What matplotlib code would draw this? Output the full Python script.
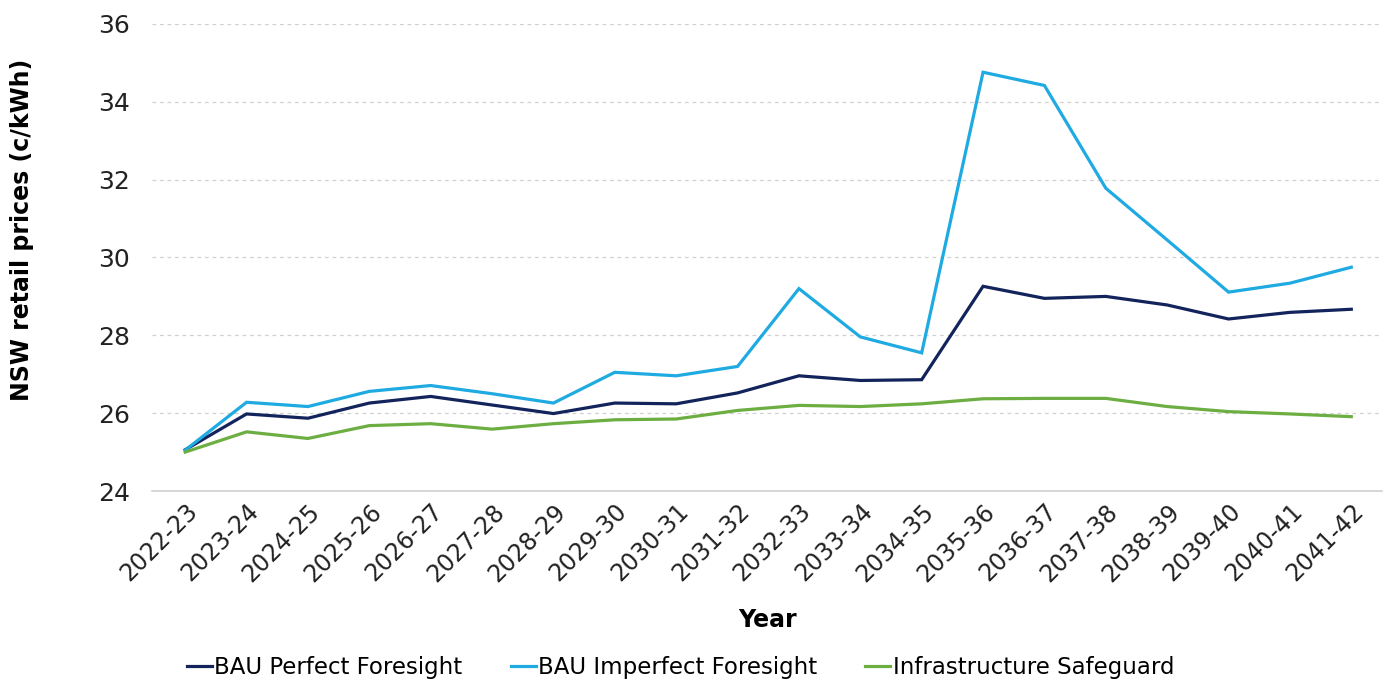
import matplotlib
matplotlib.use("Agg")
import matplotlib.pyplot as plt

years = ["2022-23", "2023-24", "2024-25", "2025-26", "2026-27", "2027-28", "2028-29",
         "2029-30", "2030-31", "2031-32", "2032-33", "2033-34", "2034-35", "2035-36",
         "2036-37", "2037-38", "2038-39", "2039-40", "2040-41", "2041-42"]

bau_perfect = [25.06, 25.98, 25.87, 26.26, 26.43, 26.21, 25.99, 26.26, 26.24, 26.52,
               26.96, 26.84, 26.86, 29.26, 28.95, 29.00, 28.78, 28.42, 28.59, 28.67]
bau_imperfect = [25.05, 26.28, 26.17, 26.56, 26.71, 26.50, 26.26, 27.05, 26.96, 27.20,
                 29.20, 27.96, 27.55, 34.76, 34.42, 31.78, 30.45, 29.11, 29.34, 29.75]
safeguard = [25.00, 25.52, 25.35, 25.68, 25.73, 25.59, 25.73, 25.83, 25.85, 26.07,
             26.20, 26.17, 26.24, 26.37, 26.38, 26.38, 26.17, 26.04, 25.98, 25.91]

series_names = ["BAU Perfect Foresight", "BAU Imperfect Foresight", "Infrastructure Safeguard"]
colors = ["#13235B", "#1FAAE1", "#6DAE43"]

plt.rcParams['font.family'] = ['DejaVu Sans']

fig = plt.figure(figsize=(13.86, 6.85), dpi=100)
ax = fig.add_axes([0.1097, 0.2832, 0.8874, 0.6818])

x = list(range(len(years)))
for vals, name, c in zip([bau_perfect, bau_imperfect, safeguard], series_names, colors):
    ax.plot(x, vals, color=c, lw=2.3, label=name, solid_joinstyle='miter')

ax.set_xlim(-0.54, 19.5)
ax.set_ylim(24, 36)
ax.set_yticks(range(24, 37, 2))
ax.set_xticks(x)
ax.set_xticklabels(years, rotation=45, ha='right', rotation_mode='anchor', fontsize=17, color='#222222')
ax.tick_params(axis='y', labelsize=18, length=0, pad=16, labelcolor='#222222')
ax.tick_params(axis='x', length=0, pad=6)

ax.grid(axis='y', color='#D0D0D0', linestyle=(0, (3, 3)), lw=0.9)
ax.set_axisbelow(True)
for s in ['top', 'right', 'left']:
    ax.spines[s].set_visible(False)
ax.spines['bottom'].set_color('#D0D0D0')
ax.spines['bottom'].set_linewidth(1.2)

ax.set_ylabel("NSW retail prices (c/kWh)", fontsize=17, fontweight='bold')
ax.yaxis.set_label_coords(-0.096, 0.56)
ax.set_xlabel("Year", fontsize=17, fontweight='bold')
ax.xaxis.set_label_coords(0.5, -0.25)

fig.legend(loc='center', bbox_to_anchor=(0.491, 0.025), ncol=3, frameon=False,
           fontsize=16.5, handlelength=1.1, handletextpad=0.1, columnspacing=2.1)

fig.savefig("out.png", dpi=100)
